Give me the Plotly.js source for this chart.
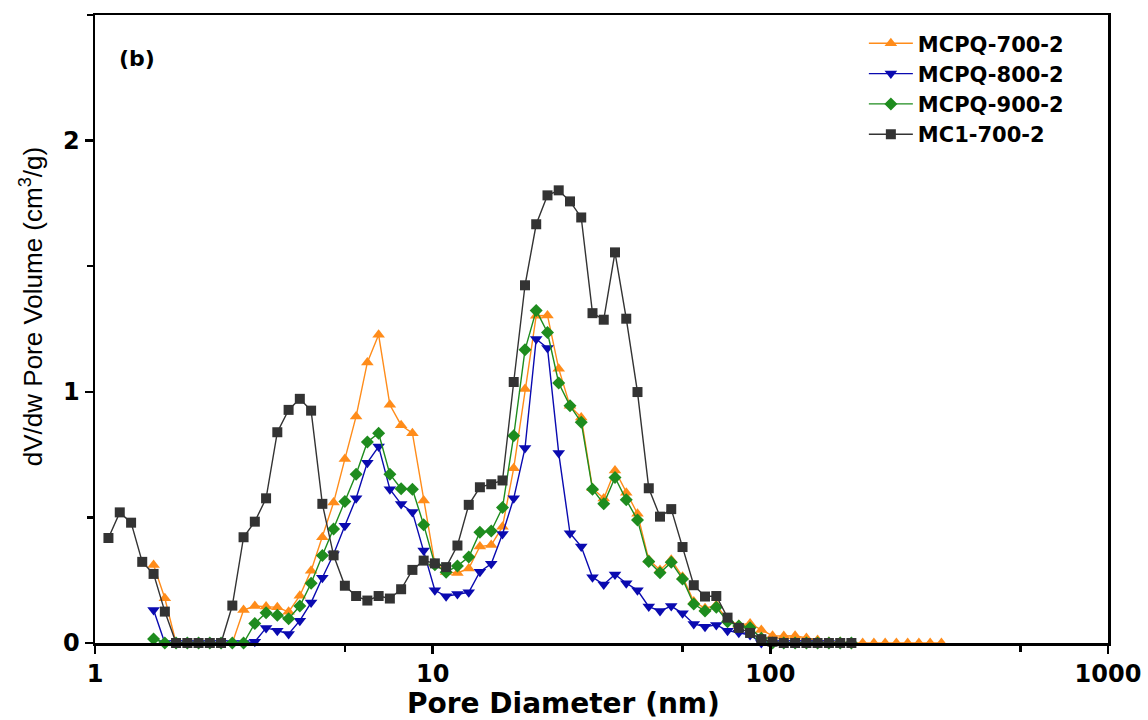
<!DOCTYPE html>
<html>
<head>
<meta charset="utf-8">
<script src="https://cdn.plot.ly/plotly-3.0.1.min.js"></script>
<style>html,body{margin:0;padding:0;background:#fff;}#chart{width:1148px;height:720px;}</style>
</head>
<body>
<div id="chart"></div>
<script>
// Pore diameter grid (nm)
const poreDiameter = [1.096,1.184,1.279,1.380,1.491,1.610,1.738,1.877,2.026,2.188,
  2.362,2.551,2.754,2.974,3.211,3.467,3.744,4.042,4.365,4.713,
  5.088,5.495,5.933,6.406,6.918,7.469,8.065,8.710,9.404,10.15,
  10.96,11.84,12.79,13.80,14.91,16.10,17.38,18.77,20.26,21.88,
  23.62,25.51,27.54,29.74,32.11,34.67,37.44,40.42,43.65,47.13,
  50.88,54.95,59.33,64.06,69.18,74.69,80.65,87.10,94.04,101.5,
  109.6,118.4,127.9,138.0,149.1,161.0,173.8,187.7,202.6,218.8,
  236.2,255.1,275.4,297.4,321.1];

const seriesNames = ["MCPQ-700-2","MCPQ-800-2","MCPQ-900-2","MC1-700-2"];

const mcpq700 = [null,null,null,null,0.311,0.178,0,0,0,0,
  0,0,0.131,0.147,0.145,0.142,0.124,0.188,0.288,0.421,
  0.559,0.732,0.902,1.117,1.227,0.948,0.867,0.835,0.567,0.314,
  0.283,0.279,0.297,0.384,0.390,0.463,0.696,1.011,1.303,1.304,
  1.092,0.944,0.898,0.616,0.575,0.687,0.598,0.515,0.331,0.291,
  0.331,0.264,0.165,0.138,0.151,0.092,0.072,0.078,0.052,0.029,
  0.028,0.029,0.020,0.012,0.004,0.004,0,0,0,0,
  0,0,0,0,0];

const mcpq800 = [null,null,null,null,0.131,0,0,0,0,0,
  0,0,0,0.005,0.060,0.049,0.036,0.089,0.161,0.260,
  0.353,0.467,0.576,0.718,0.782,0.612,0.553,0.521,0.368,0.210,
  0.186,0.195,0.202,0.284,0.315,0.434,0.576,0.776,1.210,1.174,
  0.756,0.437,0.384,0.262,0.233,0.273,0.238,0.210,0.145,0.127,
  0.147,0.118,0.076,0.065,0.072,0.049,0.041,0.032,0,0,
  0,0,0,0,0,null,null,null,null,null,
  null,null,null,null,null];

const mcpq900 = [null,null,null,null,0.016,0,0,0,0,0,
  0,0,0,0.078,0.120,0.110,0.097,0.147,0.238,0.348,
  0.454,0.563,0.672,0.800,0.835,0.672,0.614,0.612,0.471,0.312,
  0.282,0.307,0.342,0.441,0.446,0.539,0.825,1.167,1.324,1.236,
  1.035,0.944,0.879,0.612,0.554,0.659,0.570,0.490,0.324,0.280,
  0.321,0.255,0.155,0.127,0.142,0.085,0.068,0.061,0.019,0,
  0,0,0,0,0,0,0,null,null,null,
  null,null,null,null,null];

const mc1700 = [0.418,0.520,0.479,0.323,0.275,0.125,0,0,0,0,
  0,0.149,0.421,0.483,0.576,0.839,0.928,0.972,0.925,0.554,
  0.349,0.228,0.187,0.169,0.187,0.177,0.214,0.291,0.328,0.317,
  0.302,0.388,0.550,0.620,0.632,0.647,1.039,1.424,1.667,1.782,
  1.802,1.758,1.694,1.313,1.287,1.555,1.291,0.999,0.616,0.503,
  0.533,0.382,0.230,0.185,0.187,0.101,0.060,0.040,0.015,0.005,
  0,0,0,0,0,0,0,null,null,null,
  null,null,null,null,null];

const xTickVals = [1,10,100,1000];
const xTickText = ["1","10","100","1000"];
const xMinorVals = [5.5,55,550];
const yTickVals = [0,1,2];
const yTickText = ["0","1","2"];
const yMinorVals = [0.5,1.5,2.5];

const colors = ["#FF8C1A","#0A0AB0","#1E8C1E","#333333"];
const symbols = ["triangle-up","triangle-down","diamond","square"];
const sizes = [11,11,10,10];
const allY = [mcpq700, mcpq800, mcpq900, mc1700];

const traces = allY.map((ys,k)=>({
  x: poreDiameter, y: ys, name: seriesNames[k],
  type:"scatter", mode:"lines+markers", cliponaxis:false,
  line:{color:colors[k], width:1.4},
  marker:{symbol:symbols[k], size:sizes[k], color:colors[k]}
}));

const layout = {
  width:1148, height:720,
  margin:{l:95, r:40, t:15, b:77},
  paper_bgcolor:"#fff", plot_bgcolor:"#fff",
  font:{family:"DejaVu Sans", color:"#000"},
  showlegend:true,
  legend:{x:0.759, y:0.987, xanchor:"left", yanchor:"top", itemwidth:44,
    font:{family:"DejaVu Sans", size:21, color:"#000", weight:"bold"},
    bgcolor:"rgba(0,0,0,0)", tracegroupgap:0},
  xaxis:{type:"log", range:[0,3], showgrid:false, zeroline:false,
    showline:true, linecolor:"#000", linewidth:2.5, mirror:true,
    ticks:"outside", ticklen:8, tickwidth:2.5, tickcolor:"#000",
    tickmode:"array", tickvals:xTickVals, ticktext:xTickText,
    tickfont:{family:"DejaVu Sans", size:24, weight:"bold"},
    minor:{tickmode:"array", tickvals:xMinorVals, ticks:"outside", ticklen:6, tickwidth:2.5, tickcolor:"#000"}
  },
  yaxis:{range:[0,2.5], showgrid:false, zeroline:false,
    showline:true, linecolor:"#000", linewidth:2.5, mirror:true,
    ticks:"outside", ticklen:8, tickwidth:2.5, tickcolor:"#000",
    tickmode:"array", tickvals:yTickVals, ticktext:yTickText,
    tickfont:{family:"DejaVu Sans", size:24, weight:"bold"},
    minor:{tickmode:"array", tickvals:yMinorVals, ticks:"outside", ticklen:6, tickwidth:2.5, tickcolor:"#000"}
  },
  annotations:[
    {text:"(b)", xref:"paper", yref:"paper", x:0.022, y:0.93, xanchor:"left", yanchor:"middle",
     showarrow:false, font:{family:"DejaVu Sans", size:22, weight:"bold", color:"#000"}},
    {text:"Pore Diameter (nm)", xref:"paper", yref:"paper", x:0.462, y:-0.096, xanchor:"center", yanchor:"middle",
     showarrow:false, font:{family:"DejaVu Sans", size:28, weight:"bold", color:"#000"}},
    {text:"dV/dw Pore Volume (cm<sup>3</sup>/g)", xref:"paper", yref:"paper", x:-0.063, y:0.535, xanchor:"center", yanchor:"middle",
     textangle:-90, showarrow:false, font:{family:"Liberation Sans", size:26, color:"#000"}}
  ]
};

Plotly.newPlot("chart", traces, layout, {displayModeBar:false, staticPlot:true});
</script>
</body>
</html>
